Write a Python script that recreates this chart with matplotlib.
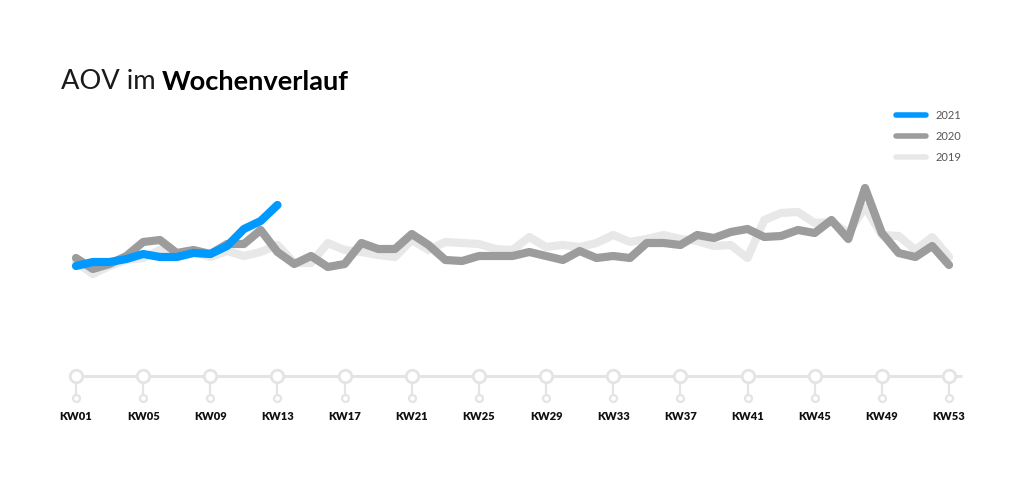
import matplotlib
matplotlib.use("Agg")
import matplotlib.pyplot as plt
import matplotlib.transforms as mtransforms
import numpy as np

# Average order value (EUR) per calendar week
weeks = list(range(1, 54))
aov_2021 = [58.5, 59.5, 59.5, 60.25, 61.5, 60.75, 60.75, 61.75, 61.5, 63.5,
            67.75, 69.75, 73.75]
aov_2020 = [60.5, 57.75, 59.0, 61.0, 64.5, 65.0, 61.75, 62.5, 61.5, 64.0,
            64.0, 67.5, 62.0, 59.0, 61.0, 58.25, 59.0, 64.25, 62.75, 62.75,
            66.5, 63.75, 60.0, 59.75, 61.0, 61.0, 61.0, 62.0, 61.0, 60.0,
            62.25, 60.5, 61.0, 60.5, 64.25, 64.25, 63.75, 66.25, 65.5, 67.0,
            67.75, 65.75, 66.0, 67.5, 66.75, 70.0, 65.25, 78.0, 66.75, 61.75,
            60.75, 63.5, 58.75]
aov_2019 = [59.5, 56.5, 58.5, 60.0, 60.5, 62.5, 60.75, 62.0, 60.75, 62.25,
            61.0, 62.0, 63.75, 59.25, 59.25, 64.25, 62.5, 62.0, 61.25, 60.75,
            65.0, 62.5, 64.5, 64.25, 64.0, 62.75, 62.5, 65.75, 63.25, 63.75,
            63.25, 64.25, 66.25, 64.5, 65.25, 66.25, 65.25, 64.75, 63.5, 63.75,
            60.5, 70.0, 71.75, 72.0, 69.25, 69.5, 66.75, 73.25, 66.25, 66.0,
            62.5, 65.75, 60.75]
tick_weeks = list(range(1, 54, 4))
tick_labels = [f"KW{w:02d}" for w in tick_weeks]

series = [("2019", aov_2019, "#e8e8e8"),
          ("2020", aov_2020, "#9c9c9c"),
          ("2021", aov_2021, "#0099ff")]

W, H = 1025, 482
fig = plt.figure(figsize=(W / 100, H / 100), dpi=100)
fig.patch.set_facecolor("white")
ax = fig.add_axes([0, 0, 1, 1])
ax.set_axis_off()

# scale: KW01 at x=76px, KW53 at x=949px; 4px per euro, 50 EUR at y=300px
px_per_week = (949 - 76) / 52
ax.set_xlim(1 - 76 / px_per_week, 1 + (W - 76) / px_per_week)
ax.set_ylim(50 - (H - 300) / 4, 50 + 300 / 4)

handles = {}
for name, vals, col in series:
    (ln,) = ax.plot(weeks[:len(vals)], vals, color=col, lw=5.9,
                    solid_capstyle="round", solid_joinstyle="round", zorder=3)
    handles[name] = ln

# timeline with milestone markers below the chart
trans = mtransforms.blended_transform_factory(ax.transData, ax.transAxes)
y_line = 1 - 376 / H
y_dot = 1 - 398 / H
y_lab = 1 - 417 / H
grey = "#e4e4e4"
ax.plot([tick_weeks[0], tick_weeks[-1] + 0.75], [y_line, y_line], color=grey,
        lw=2.2, transform=trans, zorder=1, solid_capstyle="butt")
for w, lab in zip(tick_weeks, tick_labels):
    ax.plot([w, w], [y_line, y_dot], color=grey, lw=1.6, transform=trans, zorder=1)
    ax.plot([w], [y_line], marker="o", ms=9, mfc="white", mec=grey, mew=2.0,
            transform=trans, zorder=2)
    ax.plot([w], [y_dot], marker="o", ms=5, mfc="white", mec=grey, mew=1.6,
            transform=trans, zorder=2)
    ax.text(w, y_lab, lab, transform=trans, ha="center", va="center",
            fontsize=8.0, fontweight="heavy", family="Lato", color="#111111")

# title
t1 = fig.text(61 / W, 1 - 89 / H, "AOV im", fontsize=19.6, family="Lato",
              fontweight="normal", color="#1a1a1a", ha="left", va="baseline")
ax.annotate("Wochenverlauf", xy=(1, 0), xycoords=t1, xytext=(6, 0),
            textcoords="offset pixels", fontsize=19.6, family="Lato",
            fontweight="bold", color="#000000", ha="left", va="bottom")

leg = fig.legend([handles["2021"], handles["2020"], handles["2019"]],
                 ["2021", "2020", "2019"], loc="upper left",
                 bbox_to_anchor=(890 / W, 1 - 104 / H), frameon=False,
                 prop={"family": "Lato", "size": 8}, handlelength=2.7,
                 handletextpad=0.9, labelspacing=0.9, borderpad=0)
for txt in leg.get_texts():
    txt.set_color("#555555")
for lh in leg.legend_handles:
    lh.set_linewidth(4)

fig.savefig("out.png", dpi=100, facecolor="white")
